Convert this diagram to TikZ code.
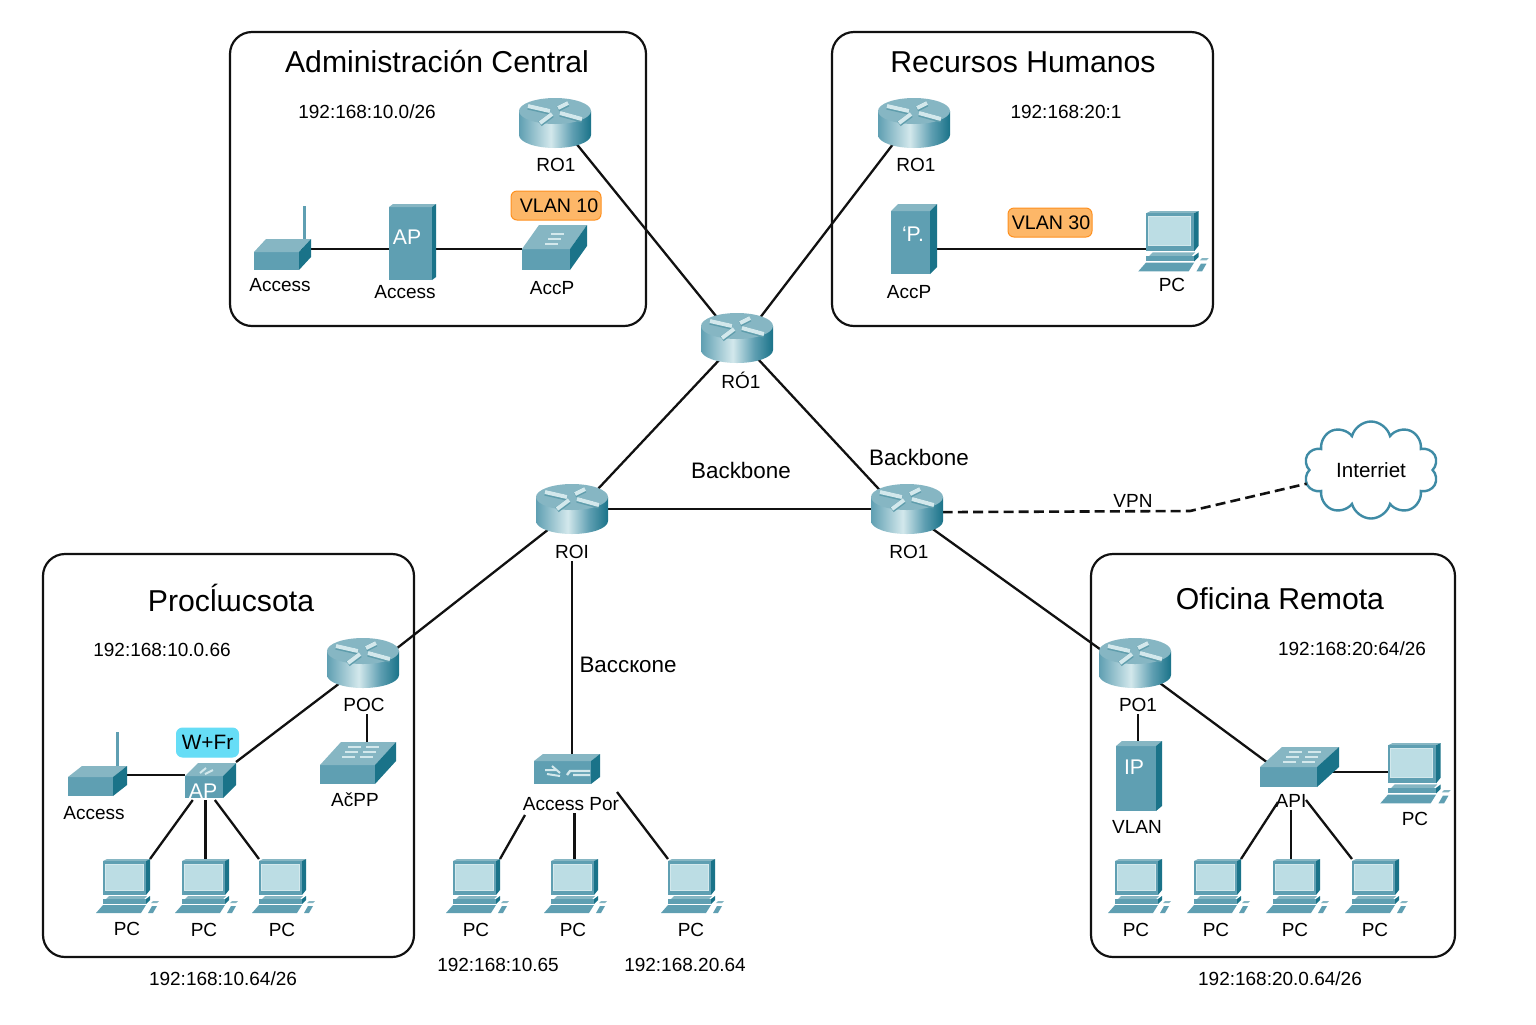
\documentclass[tikz,border=0pt]{standalone}
\usepackage{fontspec}
\setmainfont{Liberation Sans}
\usetikzlibrary{shapes.geometric,shapes.symbols}

\definecolor{devfront}{HTML}{5F9FB2}
\definecolor{devtop}{HTML}{86B6C3}
\definecolor{devside}{HTML}{1A7389}
\definecolor{devscreen}{HTML}{BCDDE4}
\definecolor{devlight}{HTML}{D3E8EC}
\definecolor{netline}{HTML}{111111}
\definecolor{cloudline}{HTML}{3F8BA5}
\definecolor{badgeorange}{HTML}{FDB768}
\definecolor{badgecyan}{HTML}{66DDF6}

\pgfdeclarehorizontalshading{routerside}{100bp}{
  color(0bp)=(devfront); color(25bp)=(devfront); color(47bp)=(devlight);
  color(62bp)=(devfront); color(75bp)=(devside); color(100bp)=(devside)}

\newcommand{\devcube}[6]{
  \fill[devfront] (#1,#2) rectangle ++(#3,#4);
  \fill[devtop] (#1,#2) -- ++(#5,-#6) -- ++(#3,0) -- ++(-#5,#6) -- cycle;
  \fill[devside] (#1+#3,#2) -- ++(#5,-#6) -- ++(0,#4) -- ++(-#5,#6) -- cycle;
}
\newcommand{\devbars}[2]{
  \foreach \k in {0,1,2}
    \draw[devbar] (#1-\k*3,#2+\k*5) -- ++(13,0);
}

\tikzset{
  zonebox/.style={draw=netline, line width=1.1pt, rounded corners=11pt},
  link/.style={draw=netline, line width=1.15pt},
  vpnlink/.style={link, line width=1.3pt, dash pattern=on 5pt off 2.6pt},
  devbar/.style={devlight, line width=1.1pt},
  title/.style={font=\fontsize{15.1}{17}\selectfont, inner sep=1pt},
  netlabel/.style={font=\fontsize{9.5}{11}\selectfont, inner sep=1pt, yshift=-0.5pt},
  addr/.style={font=\fontsize{9.5}{12}\selectfont, inner sep=1pt},
  bblabel/.style={font=\fontsize{11.2}{13}\selectfont, inner sep=1pt},
  iconlabel/.style={font=\fontsize{10.6}{12}\selectfont, text=white, inner sep=0pt},
  badge/.style={rounded corners=3pt, line width=0.5pt, font=\fontsize{9.8}{11}\selectfont,
    inner sep=0pt, minimum height=14.5pt},
  vlanbadge/.style={badge, fill=badgeorange, draw=orange!70!badgeorange},
  wifibadge/.style={badge, fill=badgecyan, draw=badgecyan, font=\fontsize{10.4}{11}\selectfont},
  hub/.style={ellipse, minimum width=36pt, minimum height=25pt, inner sep=0pt, outer sep=0pt},
  box/.style={rectangle, inner sep=0pt, outer sep=0pt},
  pcbox/.style={box, minimum width=23.5pt, minimum height=18pt},
  % icons, in pixels of the sheet
  router/.pic={
    \shade[shading=routerside] (-36,-12) -- (-36,12)
      arc[x radius=36, y radius=13, start angle=180, end angle=0] -- (36,-12) -- cycle;
    \fill[devtop] (0,-12) ellipse[x radius=36, y radius=13];
    \foreach \xa/\ya/\xb/\yb in {-27/-17/-5/-12, 3/-15/13/-20, -15/0/-3/-9, 5/-10/27/-4} {
      \draw[devside!70, line width=2.8pt] (\xa,\ya+0.8) -- (\xb,\yb+0.8);
      \draw[devlight, line width=2pt] (\xa,\ya) -- (\xb,\yb);
    }
  },
  pcicon/.pic={
    \fill[devtop] (0,2) -- (4,0) -- (47,0) -- (43,2) -- cycle;
    \fill[devfront] (0,2) rectangle (43,36);
    \fill[devside] (43,2) -- (47,0) -- (47,31) -- (43,36) -- cycle;
    \fill[devlight] (2,4.5) rectangle (40.5,31.5);
    \fill[devscreen] (3,5.5) rectangle (39.5,30.5);
    \fill[devtop] (6,37) -- (44,37) -- (41,40) -- (3,40) -- cycle;
    \fill[devfront] (0,40) rectangle (43,45);
    \fill[devside] (43,40) -- (47,37) -- (47,41) -- (43,45) -- cycle;
    \fill[devfront] (-7,54) -- (38,54) -- (43,46) -- (0,46) -- cycle;
    \fill[devfront] (45,54) -- (50,54) -- (54,47) -- (49,47) -- cycle;
    \fill[devtop] (48,44) -- (54,44) -- (56,42) -- (50,42) -- cycle;
  }
}

\def\pcsmall{103/859/pcPa,182/859/pcPb,259/859/pcPc,453/859/pcMa,551/859/pcMb,668/859/pcMc,1115/859/pcNa,1194/859/pcNb,1273/859/pcNc,1352/859/pcNd}

\begin{document}
\begin{tikzpicture}[x=0.5pt, y=-0.5pt]
    \useasboundingbox (0, 0) rectangle (1536, 1024);

    % Zones
    \draw[zonebox] (230, 32) rectangle (646, 326);
    \draw[zonebox] (832, 32) rectangle (1213, 326);
    \draw[zonebox] (43, 554) rectangle (414, 957);
    \draw[zonebox] (1091, 554) rectangle (1455, 957);

    \node[title] (tAdmin) at (437, 62) {Administración Central};
    \node[title] (tHr) at (1023, 62) {Recursos Humanos};
    \node[title] (tProd) at (231, 598) {Procĺɯcsota};
    \node[title] (tRem) at (1280, 599) {Oficina Remota};

    % Addresses
    \node[addr] (aAdmin) at (367, 112) {192:168:10.0/26};
    \node[addr] (aHr) at (1066, 112) {192:168:20:1};
    \node[addr] (aProd) at (162, 650) {192:168:10.0.66};
    \node[addr] (aRem) at (1352, 649) {192:168:20:64/26};
    \node[addr] (aProdB) at (223, 979) {192:168:10.64/26};
    \node[addr] (aMidA) at (498, 965) {192:168:10.65};
    \node[addr] (aMidB) at (685, 965) {192:168.20.64};
    \node[addr] (aRemB) at (1280, 979) {192:168:20.0.64/26};

    % Routers
    \foreach \x/\y/\n in {555/123/rAdmin, 914/123/rHr, 737/338/rCore, 572/509/rLeft,
                          907/509/rRight, 363/663/rProd, 1135/663/rRem}
        \node[hub] (\n) at (\x, \y) {};

    % Other devices
    \foreach \x/\y/\n in \pcsmall
        \node[pcbox] (\n) at (\x+23.5, \y+18) {};
    \node[pcbox, minimum width=26pt, minimum height=20pt] (pcHr) at (1172, 231) {};
    \node[pcbox, minimum width=26pt, minimum height=20pt] (pcRem) at (1414, 763) {};

    \node[box, minimum width=28pt, minimum height=15.5pt] (wlAdmin) at (282, 254) {};
    \node[box, minimum width=23.5pt, minimum height=38pt] (srvAdmin) at (412, 242) {};
    \node[box, minimum width=32.5pt, minimum height=23pt] (swAdmin) at (554, 249) {};
    \node[box, minimum width=23.5pt, minimum height=35.5pt] (srvHr) at (914, 240) {};
    \node[box, minimum width=29.5pt, minimum height=15pt] (wlProd) at (97, 781) {};
    \node[box, minimum width=25.5pt, minimum height=19pt] (apBox) at (210.5, 781) {};
    \node[box, minimum width=38pt, minimum height=21pt] (swProd) at (358, 763) {};
    \node[box, minimum width=33pt, minimum height=15.5pt] (portHub) at (567, 769) {};
    \node[box, minimum width=39.5pt, minimum height=20pt] (swRem) at (1299.5, 767) {};
    \node[box, minimum width=23.5pt, minimum height=35pt] (srvIp) at (1139, 776) {};

    % Cloud
    \node[cloud, draw=cloudline, line width=1.2pt, cloud puffs=10, cloud ignores aspect,
        minimum width=67pt, minimum height=48.5pt, inner sep=0pt, outer sep=0pt,
        font=\fontsize{10.3}{12}\selectfont] (inet) at (1371, 470) {Interriet};

    % Device labels
    \foreach \x/\y/\n/\t in {556/164/lAdmin/RO1, 916/164/lHr/RO1, 741/379/lCore/RÓ1,
                             572/551/lLeft/ROI, 909/551/lRight/RO1, 364/704/lProd/POC,
                             1138/704/lRem/PO1, 280/284/lWlA/Access, 405/291/lSrvA/Access,
                             552/287/lSwA/AccP, 909/291/lSrvH/AccP, 1172/284/lPcH/PC,
                             94/812/lWlP/Access, 355/799/lSwP/AčPP, 1137/826/lVlan/VLAN,
                             1291/800/lApi/API, 1415/818/lPcR/PC, 571/803/lPort/Access Por,
                             127/928/lPa/PC, 204/929/lPb/PC, 282/929/lPc/PC,
                             476/929/lMa/PC, 573/929/lMb/PC, 691/929/lMc/PC,
                             1136/929/lNa/PC, 1216/929/lNb/PC, 1295/929/lNc/PC, 1375/929/lNd/PC,
                             1133/500/lVpn/VPN}
        \node[netlabel] (\n) at (\x, \y) {\t};

    \node[bblabel] (bbA) at (741, 470) {Backbone};
    \node[bblabel] (bbB) at (919, 457) {Backbone};
    \node[bblabel] (bbC) at (628, 665) {Baccкone};

    % Free ends
    \coordinate (apiIn) at (1268, 763);
    \coordinate (apiOut) at (1325, 772);
    \coordinate (apiLeft) at (1278, 802);
    \coordinate (apiRight) at (1306, 800);
    \coordinate (portLeft) at (525, 815);
    \coordinate (portRight) at (617, 792);
    \coordinate (wlOut) at (120, 775);
    \coordinate (hrOut) at (925, 249);
    \coordinate (vpnBend) at (1190, 511);

    % Backbone links
    \draw[link] (rAdmin.-44) -- (rCore.134);
    \draw[link] (rHr.-135) -- (rCore.41);
    \draw[link] (rCore.231) -- (rLeft.37);
    \draw[link] (rCore.-45) -- (rRight.146);
    \draw[link] (rLeft) -- (rRight);
    \draw[link] (rLeft.-139) -- (rProd.22);
    \draw[link] (rRight.-38) -- (rRem.160);
    \draw[link] (lLeft.south) -- (lLeft.south |- portHub.north);
    \draw[vpnlink] (rRight.-5) -- (vpnBend) -- (inet.192);

    % Zone links
    \draw[link] (swAdmin.west) -- (swAdmin.west -| wlAdmin.center);
    \draw[link] (hrOut) -- (hrOut -| pcHr.center);
    \draw[link] (rProd.-139) -- (apBox.north east);
    \draw[link] ([xshift=1.5pt]lProd.south) -- ([xshift=1.5pt]lProd.south |- swProd.north);
    \draw[link] (wlOut) -- (wlOut -| apBox.west);
    \draw[link] (apBox.227) -- (pcPa.north east);
    \draw[link] (pcPb.north |- apBox.south) -- (pcPb.north);
    \draw[link] (apBox.283) -- (pcPc.north west);
    \draw[link] (portLeft) -- (pcMa.north east);
    \draw[link] (pcMb.north |- lPort.south) -- (pcMb.north);
    \draw[link] (portRight) -- (pcMc.north west);
    \draw[link] (rRem.-39) -- (apiIn);
    \draw[link] (lRem.south) -- (lRem.south |- srvIp.north);
    \draw[link] (apiOut) -- (apiOut -| pcRem.west);
    \draw[link] (apiLeft) -- (pcNb.north east);
    \draw[link] (lApi.south) -- (lApi.south |- pcNc.north);
    \draw[link] (apiRight) -- (pcNd.north west);

    % Router icons
    \foreach \n in {rAdmin, rHr, rCore, rLeft, rRight, rProd, rRem}
        \pic at (\n) {router};

    % PC icons
    \foreach \x/\y/\n in \pcsmall
        \pic at (\x, \y) {pcicon};
    \pic[scale=1.12] at (1146, 211) {pcicon};
    \pic[scale=1.12] at (1388, 743) {pcicon};

    % Wireless
    \fill[devfront] (303, 206) rectangle (306, 240);
    \devcube{254}{252}{45}{18}{12}{13}
    \fill[devfront] (116, 732) rectangle (119, 767);
    \devcube{68}{777}{45}{19}{14}{11}

    % Switches
    \devcube{522}{249}{48}{21}{17}{24}
    \devbars{551}{234}
    \devcube{320}{765}{55}{19}{21}{23}
    \devbars{348}{747}
    \devbars{366}{747}
    \devcube{1260}{767}{57}{20}{22}{20}
    \devbars{1289}{752}
    \devbars{1308}{752}
    \devcube{185}{776}{38}{22}{13}{13}
    \draw[devlight, line width=1pt] (200, 773) -- (206, 768) (205, 774) -- (213, 770);

    % Servers
    \devcube{389}{207}{43}{73}{4}{3}
    \devcube{891}{211}{39}{63}{7}{7}
    \devcube{1116}{746}{40}{65}{6}{5}

    % Port box
    \devcube{534}{761}{57}{23}{9}{7}
    \draw[devlight, line width=1pt] (545, 770) -- (557, 770) (547, 774) -- (560, 776) (552, 766) -- (560, 773);
    \draw[devlight, line width=1.2pt] (567, 775) -- (570, 771) -- (590, 771) (573, 775) -- (590, 775);

    % Text on icons
    \node[iconlabel] (txAp) at (407, 237) {AP};
    \node[iconlabel] (txP) at (913, 234) {‘P.};
    \node[iconlabel] (txIp) at (1134, 767) {IP};
    \node[iconlabel] (txApB) at (203, 791) {AP};

    % Badges
    \node[vlanbadge, minimum width=45pt] (vlanA) at (556, 205.5) {\hspace*{3pt}VLAN 10};
    \node[vlanbadge, minimum width=42pt] (vlanB) at (1050, 222.5) {\hspace*{1pt}VLAN 30};
    \node[wifibadge, minimum width=31pt] (wifi) at (207.5, 742.5) {W+Fr};
\end{tikzpicture}
\end{document}
